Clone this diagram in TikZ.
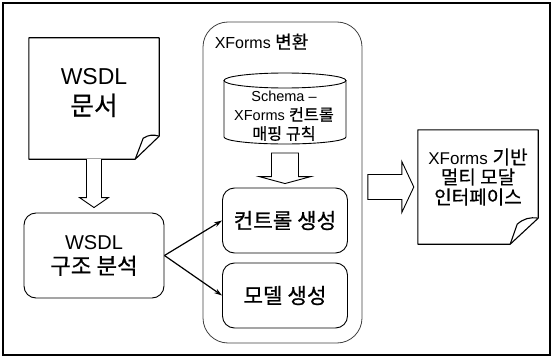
\documentclass[tikz,border=0pt]{standalone}
\usepackage{fontspec}
\setmainfont{Liberation Sans}
\newfontfamily\kr[Scale=1.12, FakeBold=0.6]{Noto Sans CJK KR}
\usetikzlibrary{calc}
\usetikzlibrary{positioning}
\usetikzlibrary{arrows.meta}
\tikzstyle{page}=[draw=none, inner sep=0pt]
\tikzstyle{pageline}=[draw=black, line width=1.1pt, line join=round]
\tikzstyle{step_box}=[draw=black, line width=0.9pt, rounded corners=12pt, inner sep=0pt, align=center]
\tikzstyle{fatarrow}=[draw=black, fill=white, line width=0.9pt, line join=miter]
\tikzstyle{flow}=[draw=black, line width=1.2pt, -{Stealth[length=8pt,width=5pt]}]
\begin{document}
\begin{tikzpicture}[x=1pt, y=1pt]
\useasboundingbox (0,0) rectangle (552,357);
\draw[line width=1.2pt] (3,2) rectangle (550,354);
% left column
\node[page, minimum width=130pt, minimum height=121pt] (wsdl) at (94,258.5) {};
\draw[pageline] (wsdl.south west) -- (wsdl.north west) -- (wsdl.north east) -- ($(wsdl.south east)+(0,23)$) -- ($(wsdl.south east)+(-24,0)$) -- cycle;
\draw[pageline] ($(wsdl.south east)+(-24,0)$) -- ++(8,21) to[bend left=25] ($(wsdl.south east)+(0,23)$);
\node[align=center, font=\fontsize{23}{31}\selectfont] (wsdl_txt) at ($(wsdl.center)+(0,6)$) {WSDL\\{\kr 문서}};
\node[step_box, minimum width=140pt, minimum height=85pt, font=\fontsize{20}{25}\selectfont] (ana) at (94,101.5) {WSDL\\{\kr 구조 분석}};
\draw[fatarrow] ($(wsdl.south)+(-7.5,0)$) -- ($(ana.north)+(-7.5,15)$) -- ++(-7,0) -- ($(ana.north)+(0,5)$) -- ++(14.5,10) -- ++(-7,0) -- ($(wsdl.south)+(7.5,0)$);
% XForms conversion
\node[draw=black!75, line width=0.8pt, rounded corners=25pt, minimum width=159pt, minimum height=321pt] (xf) at (282.5,174.5) {};
\node[anchor=west, inner sep=0pt, font=\fontsize{16}{18}\selectfont] (xf_lbl) at ($(xf.north west)+(12,-20)$) {XForms {\kr 변환}};
\draw[line width=0.9pt, fill=white] (224,276.5) -- (224,220) arc[start angle=180, end angle=360, x radius=61, y radius=7] -- (346,276.5);
\draw[line width=0.9pt, fill=white] (285,276.5) ellipse[x radius=61, y radius=7.5];
\node[align=center, inner sep=0pt, font=\fontsize{14.5}{19}\selectfont] (rules) at (284,241) {Schema –\\XForms {\kr 컨트롤}\\{\kr 매핑 규칙}};
\coordinate (rules_bot) at (285,213);
\node[step_box, minimum width=125pt, minimum height=65pt, font=\kr\fontsize{19}{22}\selectfont] (ctrl) at (285,136.5) {컨트롤 생성};
\node[step_box, minimum width=125pt, minimum height=65pt, font=\kr\fontsize{19}{22}\selectfont] (model) at (285,61.5) {모델 생성};
\draw[fatarrow] ($(rules_bot)+(-13.5,-9)$) -- ($(ctrl.north)+(-13.5,11)$) -- ++(-12.5,0) -- ($(ctrl.north)+(0,4)$) -- ++(26,7) -- ++(-12.5,0) -- ($(rules_bot)+(13.5,-9)$) -- cycle;
\draw[flow] (ana.east) -- (ctrl.west);
\draw[flow] (ana.east) -- (model.west);
% output
\node[page, minimum width=120pt, minimum height=114pt] (out) at (478,170) {};
\draw[pageline] (out.south west) -- (out.north west) -- (out.north east) -- ($(out.south east)+(0,26)$) -- ($(out.south east)+(-28,0)$) -- cycle;
\draw[pageline] ($(out.south east)+(-28,0)$) -- ++(7,20) to[bend left=25] ($(out.south east)+(0,26)$);
\node[align=center, font=\fontsize{17}{20}\selectfont] (out_txt) at ($(out.center)+(0,10)$) {XForms {\kr 기반}\\{\kr 멀티 모달}\\{\kr 인터페이스}};
\draw[fatarrow] ($(out.west)+(-50,12.5)$) -- ++(34,0) -- ++(0,13) -- ($(out.west)+(-4,0)$) -- ++(-12,-25.5) -- ++(0,13) -- ++(-34,0) -- cycle;
\end{tikzpicture}
\end{document}
